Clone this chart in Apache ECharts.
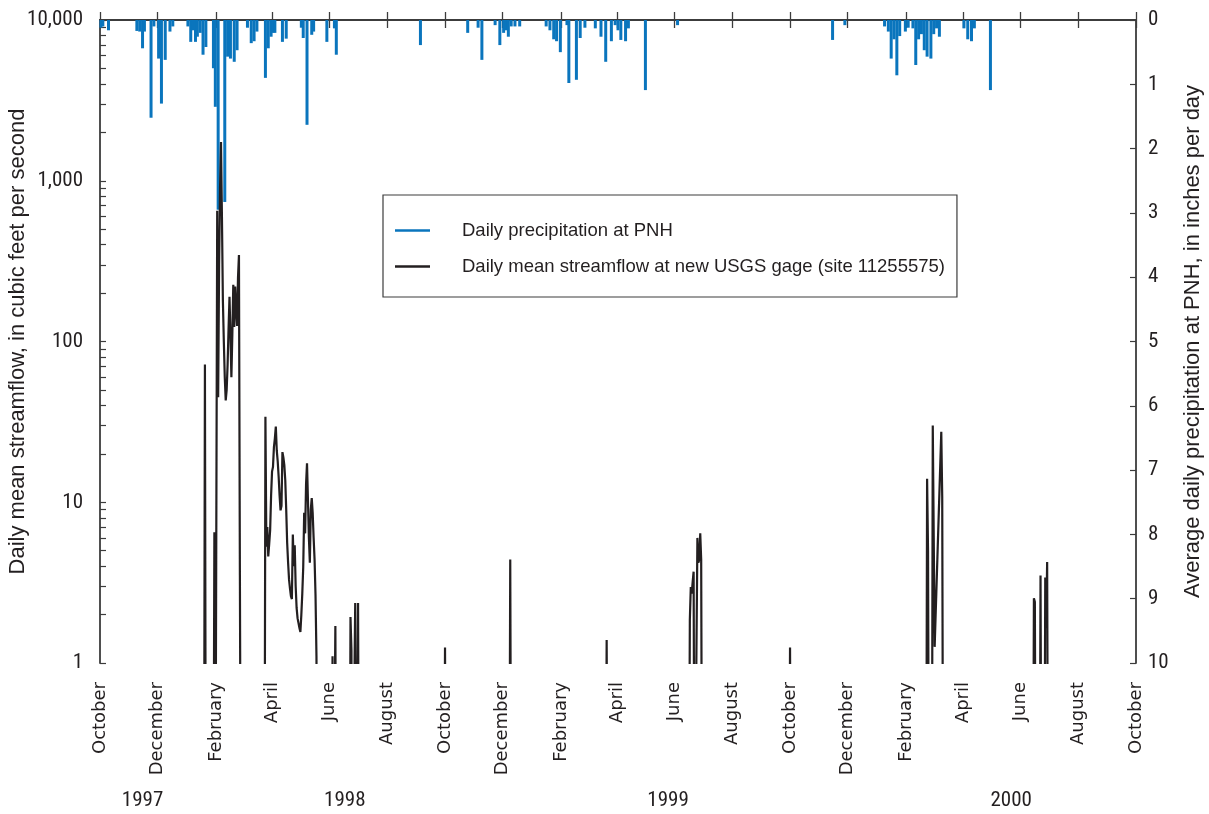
<!DOCTYPE html>
<html>
<head>
<meta charset="utf-8">
<script src="https://cdn.jsdelivr.net/npm/echarts@6/dist/echarts.min.js"></script>
<style>
  html, body { margin: 0; padding: 0; background: #ffffff; }
  #chart { width: 1209px; height: 814px; }
</style>
</head>
<body>
<div id="chart"></div>
<script>
// Month ticks along the date axis (every second month) and their labels
const tickDates = ['1997-10-01','1997-12-01','1998-02-01','1998-04-01','1998-06-01','1998-08-01',
  '1998-10-01','1998-12-01','1999-02-01','1999-04-01','1999-06-01','1999-08-01',
  '1999-10-01','1999-12-01','2000-02-01','2000-04-01','2000-06-01','2000-08-01','2000-10-01'];
const tickLabels = ['October','December','February','April','June','August',
  'October','December','February','April','June','August',
  'October','December','February','April','June','August','October'];

// Calendar-year captions under the month labels
const yearLabels = ['1997','1998','1999','2000'];
const yearLabelDates = ['1997-11-15','1998-06-17','1999-05-25','2000-05-22'];

// Axis ticks
const flowTicks = [1, 10, 100, 1000, 10000];
const precipTicks = [0, 1, 2, 3, 4, 5, 6, 7, 8, 9, 10];

// Daily precipitation at PNH, inches
const precipitation = [
  ['1997-10-02',0.12],['1997-10-04',0.10],['1997-10-10',0.16],
  ['1997-11-09',0.17],['1997-11-12',0.18],['1997-11-15',0.44],['1997-11-17',0.18],['1997-11-24',1.52],['1997-11-27',0.10],
  ['1997-12-02',0.60],['1997-12-05',1.30],['1997-12-09',0.62],['1997-12-14',0.18],['1997-12-17',0.10],
  ['1998-01-02',0.10],['1998-01-05',0.34],['1998-01-07',0.16],['1998-01-10',0.34],['1998-01-12',0.26],['1998-01-15',0.20],
  ['1998-01-18',0.54],['1998-01-21',0.42],['1998-01-29',0.75],['1998-01-31',1.35],
  ['1998-02-03',2.95],['1998-02-10',2.83],['1998-02-13',0.57],['1998-02-16',0.60],['1998-02-20',0.65],['1998-02-23',0.47],
  ['1998-03-06',0.12],['1998-03-10',0.36],['1998-03-13',0.33],['1998-03-16',0.18],['1998-03-25',0.90],['1998-03-28',0.44],['1998-03-31',0.26],
  ['1998-04-02',0.20],['1998-04-04',0.20],['1998-04-12',0.34],['1998-04-16',0.29],
  ['1998-05-02',0.12],['1998-05-04',0.28],['1998-05-08',1.63],['1998-05-13',0.23],['1998-05-15',0.18],['1998-05-29',0.34],
  ['1998-06-06',0.13],['1998-06-08',0.54],
  ['1998-09-05',0.39],
  ['1998-10-25',0.20],['1998-11-05',0.12],['1998-11-09',0.62],['1998-11-23',0.08],['1998-11-28',0.39],
  ['1998-12-02',0.20],['1998-12-05',0.16],['1998-12-07',0.26],['1998-12-10',0.10],['1998-12-14',0.10],['1998-12-19',0.10],
  ['1999-01-16',0.10],['1999-01-20',0.16],['1999-01-24',0.30],['1999-01-27',0.33],['1999-01-31',0.50],
  ['1999-02-07',0.08],['1999-02-09',0.98],['1999-02-17',0.93],['1999-02-21',0.28],['1999-02-26',0.12],
  ['1999-03-09',0.13],['1999-03-15',0.26],['1999-03-20',0.65],['1999-03-26',0.33],['1999-03-30',0.08],
  ['1999-04-02',0.16],['1999-04-05',0.31],['1999-04-10',0.33],['1999-04-13',0.13],['1999-05-01',1.09],
  ['1999-06-04',0.08],
  ['1999-11-15',0.31],['1999-11-28',0.08],
  ['2000-01-09',0.10],['2000-01-13',0.18],['2000-01-16',0.60],['2000-01-19',0.30],['2000-01-22',0.86],['2000-01-25',0.25],['2000-01-31',0.18],
  ['2000-02-03',0.12],['2000-02-08',0.13],['2000-02-11',0.70],['2000-02-14',0.30],['2000-02-17',0.22],['2000-02-20',0.47],
  ['2000-02-23',0.57],['2000-02-27',0.60],
  ['2000-03-01',0.22],['2000-03-04',0.13],['2000-03-07',0.26],
  ['2000-04-02',0.13],['2000-04-06',0.30],['2000-04-10',0.33],['2000-04-13',0.13],['2000-04-30',1.09]
];

// Daily mean streamflow at the new gage, cubic feet per second (0 = no flow)
const streamflow = [
  ['1997-10-01',0],
  ['1998-01-19',0],['1998-01-20',72],['1998-01-21',0],
  ['1998-01-29',0],['1998-01-30',6.5],['1998-01-31',0],
  ['1998-02-01',0],['1998-02-02',650],['1998-02-03',45],['1998-02-04',300],['1998-02-05',900],['1998-02-06',1740],
  ['1998-02-07',600],['1998-02-08',180],['1998-02-09',100],['1998-02-10',60],['1998-02-11',43],['1998-02-12',50],
  ['1998-02-13',72],['1998-02-14',120],['1998-02-15',190],['1998-02-16',110],['1998-02-17',60],['1998-02-18',110],
  ['1998-02-19',225],['1998-02-20',123],['1998-02-21',220],['1998-02-22',160],['1998-02-23',125],['1998-02-24',250],
  ['1998-02-25',345],['1998-02-26',3.5],['1998-02-27',0],
  ['1998-03-24',0],['1998-03-25',34],['1998-03-26',5.3],['1998-03-27',7.0],['1998-03-28',4.6],['1998-03-29',5.5],
  ['1998-03-30',6.7],['1998-03-31',11],
  ['1998-04-01',15.5],['1998-04-02',16.6],['1998-04-03',22],['1998-04-04',25],['1998-04-05',29.6],['1998-04-06',21],
  ['1998-04-07',18],['1998-04-08',14.4],['1998-04-09',11],['1998-04-10',8.9],['1998-04-11',9.5],['1998-04-12',20.5],
  ['1998-04-13',19],['1998-04-14',17],['1998-04-15',13.7],['1998-04-16',9],['1998-04-17',5.6],['1998-04-18',4.2],
  ['1998-04-19',3.3],['1998-04-20',2.9],['1998-04-21',2.6],['1998-04-22',2.5],['1998-04-23',6.3],['1998-04-24',4.0],
  ['1998-04-25',5.4],['1998-04-26',3.0],['1998-04-27',2.2],['1998-04-28',1.9],['1998-04-29',1.77],['1998-04-30',1.65],
  ['1998-05-01',1.56],['1998-05-02',2.0],['1998-05-03',2.7],['1998-05-04',3.95],['1998-05-05',8.6],['1998-05-06',6.4],
  ['1998-05-07',13],['1998-05-08',17.5],['1998-05-09',10.3],['1998-05-10',6],['1998-05-11',4.2],['1998-05-12',9],
  ['1998-05-13',10.6],['1998-05-14',8.6],['1998-05-15',6],['1998-05-16',4.4],['1998-05-17',2.65],['1998-05-18',1.1],
  ['1998-05-19',0],
  ['1998-06-03',0],['1998-06-04',1.1],['1998-06-05',0],['1998-06-06',0],['1998-06-07',1.7],['1998-06-08',0],
  ['1998-06-22',0],['1998-06-23',1.93],['1998-06-24',1.2],['1998-06-25',0],['1998-06-27',0],['1998-06-28',2.36],
  ['1998-06-29',0],['1998-06-30',0],['1998-07-01',2.36],['1998-07-02',0],
  ['1998-09-30',0],['1998-10-01',1.25],['1998-10-02',0],
  ['1998-12-08',0],['1998-12-09',4.4],['1998-12-10',0],
  ['1999-03-20',0],['1999-03-21',1.39],['1999-03-22',0],
  ['1999-06-16',0],['1999-06-17',1.85],['1999-06-18',2.97],['1999-06-19',2.7],['1999-06-20',3.2],['1999-06-21',3.7],
  ['1999-06-22',0],['1999-06-24',0],['1999-06-25',6.0],['1999-06-26',4.2],['1999-06-27',4.4],['1999-06-28',6.4],
  ['1999-06-29',4.4],['1999-06-30',0],
  ['1999-09-30',0],['1999-10-01',1.25],['1999-10-02',0],
  ['2000-02-22',0],['2000-02-23',14],['2000-02-24',5.0],['2000-02-25',0],['2000-02-28',0],['2000-02-29',30],
  ['2000-03-02',1.26],['2000-03-09',27.4],['2000-03-10',10.8],['2000-03-11',0],
  ['2000-06-14',0],['2000-06-15',2.53],['2000-06-16',2.4],['2000-06-17',0],
  ['2000-06-21',0],['2000-06-22',3.5],['2000-06-23',0],
  ['2000-06-26',0],['2000-06-27',3.4],['2000-06-28',1.65],['2000-06-29',4.25],['2000-06-30',0],
  ['2000-09-30',0]
];

// ---- helpers ----
function ts(s) {
  const p = s.split('-').map(Number);
  return Date.UTC(p[0], p[1] - 1, p[2]);
}
const tickTs = tickDates.map(ts);
const monthLabelByTs = new Map(tickTs.map((t, i) => [t, tickLabels[i]]));
// log-axis tick marks: 1..9 within every decade
const flowTickMarks = [];
flowTicks.forEach((d, i) => {
  if (i === flowTicks.length - 1) { flowTickMarks.push(d); return; }
  for (let k = 1; k <= 9; k++) flowTickMarks.push(d * k);
});
// zero flow has no place on a log axis; send it below the axis floor (clipped)
const NO_FLOW = 0.05;

const INK = '#231f20';
const AXIS = '#3c3c3c';
const BLUE = '#0a75bd';
const COND = '"Roboto Condensed", "DejaVu Sans Condensed", sans-serif';
const SANS = '"Liberation Sans", Arial, sans-serif';

const chart = echarts.init(document.getElementById('chart'), null, { renderer: 'canvas' });

const xMin = ts('1997-10-01');
const xMax = ts('2000-10-01');

const dateAxisBase = {
  type: 'value',
  min: xMin,
  max: xMax,
  axisLine: { show: true, lineStyle: { color: AXIS, width: 1.8 } },
  axisTick: { show: true, inside: true, length: 8, customValues: tickTs, lineStyle: { color: AXIS, width: 1.3 } },
  splitLine: { show: false }
};

const option = {
  animation: false,
  backgroundColor: '#ffffff',
  grid: { left: 100, right: 73, top: 20, bottom: 151, containLabel: false, outerBoundsMode: 'none' },
  legend: {
    orient: 'vertical',
    left: 383,
    top: 195,
    padding: [26, 12, 21, 12],
    itemGap: 17,
    itemWidth: 35,
    itemHeight: 2.5,
    borderColor: AXIS,
    borderWidth: 1.2,
    borderRadius: 0,
    selectedMode: false,
    textStyle: { fontFamily: SANS, fontSize: 18.5, color: INK, padding: [0, 0, 0, 27] },
    data: [
      { name: 'Daily precipitation at PNH', icon: 'rect' },
      { name: 'Daily mean streamflow at new USGS gage (site 11255575)', icon: 'rect' }
    ]
  },
  xAxis: [
    Object.assign({}, dateAxisBase, {
      position: 'bottom',
      axisLabel: {
        customValues: tickTs,
        rotate: 90,
        margin: 19,
        formatter: v => monthLabelByTs.get(v) || '',
        fontFamily: '"DejaVu Sans", Verdana, sans-serif',
        fontSize: 18,
        color: INK
      }
    }),
    Object.assign({}, dateAxisBase, {
      position: 'top',
      axisLabel: { show: false }
    })
  ],
  yAxis: [
    {
      type: 'log',
      logBase: 10,
      min: 1,
      max: 10000,
      position: 'left',
      axisLine: { show: true, lineStyle: { color: AXIS, width: 1.8 } },
      axisTick: { show: true, inside: true, length: 6, customValues: flowTickMarks, lineStyle: { color: AXIS, width: 1.2 } },
      axisLabel: {
        customValues: flowTicks,
        formatter: v => Number(v).toLocaleString('en-US'),
        fontFamily: COND,
        fontSize: 21,
        margin: 17,
        color: INK
      },
      splitLine: { show: false },
      name: 'Daily mean streamflow, in cubic feet per second',
      nameLocation: 'middle',
      nameRotate: 90,
      nameMoveOverlap: false,
      nameGap: 71,
      nameTextStyle: { fontFamily: SANS, fontSize: 22, color: INK }
    },
    {
      type: 'value',
      min: 0,
      max: 10,
      interval: 1,
      inverse: true,
      position: 'right',
      axisLine: { show: true, lineStyle: { color: AXIS, width: 1.8 } },
      axisTick: { show: true, inside: true, length: 6, lineStyle: { color: AXIS, width: 1.2 } },
      axisLabel: {
        customValues: precipTicks,
        fontFamily: COND,
        fontSize: 21,
        margin: 12,
        color: INK
      },
      splitLine: { show: false },
      name: 'Average daily precipitation at PNH, in inches per day',
      nameLocation: 'middle',
      nameRotate: 90,
      nameMoveOverlap: false,
      nameGap: 46,
      nameTextStyle: { fontFamily: SANS, fontSize: 22, color: INK }
    }
  ],
  series: [
    {
      name: 'Daily precipitation at PNH',
      type: 'bar',
      xAxisIndex: 0,
      yAxisIndex: 1,
      barWidth: 3,
      color: BLUE,
      itemStyle: { color: BLUE },
      data: precipitation.map(([d, v]) => [ts(d), v]),
      z: 2
    },
    {
      name: 'Daily mean streamflow at new USGS gage (site 11255575)',
      type: 'line',
      xAxisIndex: 0,
      yAxisIndex: 0,
      color: INK,
      smooth: false,
      showSymbol: false,
      clip: true,
      lineStyle: { color: INK, width: 2.2, join: 'miter', miterLimit: 4 },
      data: streamflow.map(([d, v]) => [ts(d), v > 0 ? v : NO_FLOW]),
      z: 3
    }
  ]
};

chart.setOption(option);

// Year captions centred under their stretch of months
chart.setOption({
  graphic: yearLabels.map((y, i) => ({
    type: 'text',
    x: chart.convertToPixel({ xAxisIndex: 0 }, ts(yearLabelDates[i])),
    y: 801,
    style: {
      text: y,
      fontFamily: COND,
      fontSize: 21,
      fill: INK,
      align: 'center',
      verticalAlign: 'middle'
    }
  }))
});
</script>
</body>
</html>
